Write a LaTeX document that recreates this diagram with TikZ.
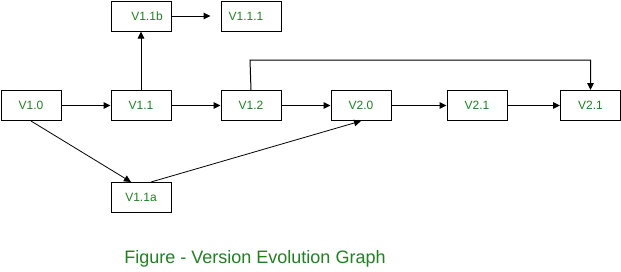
\documentclass[tikz,border=0pt]{standalone}
\usepackage{fontspec}
\setmainfont{Liberation Sans}
\usetikzlibrary{arrows.meta}
\definecolor{gtext}{RGB}{34,128,34}
\begin{document}
\begin{tikzpicture}[x=1pt,y=-1pt,
  ver/.style={draw=black,line width=1pt,minimum width=60pt,minimum height=30pt,inner sep=0pt,text=gtext,font=\fontsize{12}{14}\selectfont},
  conn/.style={draw=black,line width=1pt,-{Triangle[length=7pt,width=7pt,angle'=50]}}]
\useasboundingbox[fill=white] (0,0) rectangle (621,271);
\node[ver,anchor=north west] (v10) at (0.5,90) {V1.0};
\node[ver,anchor=north west] (v11) at (110.5,90) {V1.1};
\node[ver,anchor=north west] (v12) at (220.5,90) {V1.2};
\node[ver,anchor=north west,text width=60pt,align=center] (v11b) at (110.5,0.5) {\hspace*{12pt}V1.1b};
\node[ver,anchor=north west,text width=60pt,align=center] (v111) at (220.5,0.5) {V1.1.1\hspace*{10pt}};
\node[ver,anchor=north west] (v20) at (330.5,90) {V2.0};
\node[ver,anchor=north west] (v21) at (446.5,90) {V2.1};
\node[ver,anchor=north west] (v21b) at (560,90) {V2.1};
\node[ver,anchor=north west] (v11a) at (110.5,182) {V1.1a};
\node[text=gtext,font=\fontsize{18}{20}\selectfont] (cap) at (255,259) {Figure - Version Evolution Graph};
\coordinate (c1) at (250,60);
\coordinate (c2) at (590.5,60);
\draw[conn] (v10) -- (v11);
\draw[conn] (v11) -- (v12);
\draw[conn] (v12) -- (v20);
\draw[conn] (v20) -- (v21);
\draw[conn] (v21) -- (v21b);
\draw[conn] (v11) -- (v11b);
\draw[conn,shorten >=10pt] (v11b) -- (v111.west);
\draw[conn] (v12.north) -- (c1) -- (c2) -- (c2 |- v21b.north);
\draw[conn,line width=0.8pt] (v10.south) -- ([xshift=-10pt]v11a.north);
\draw[conn,line width=0.8pt] ([xshift=10pt]v11a.north) -- (v20.south);
\end{tikzpicture}
\end{document}
